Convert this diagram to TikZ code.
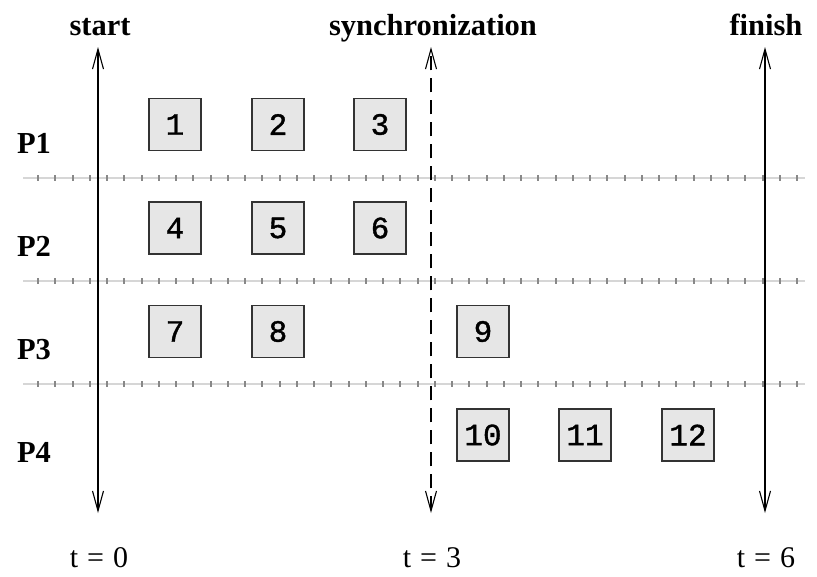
\documentclass[tikz,border=0pt]{standalone}
\usepackage{fontspec}
\setmainfont{Liberation Serif}
\newfontfamily\boxfont[FakeBold=1.2]{Liberation Mono}
\usetikzlibrary{arrows.meta}
\definecolor{boxfill}{HTML}{E6E6E6}
\definecolor{boxline}{HTML}{333333}
\definecolor{sepline}{HTML}{D6D6D6}
\definecolor{septick}{HTML}{888888}
\tikzset{
  taskbox/.style={draw=boxline, fill=boxfill, line width=1.3pt, minimum width=52pt, minimum height=52pt, inner sep=0pt, font=\boxfont\fontsize{31}{31}\selectfont},
  lbl/.style={font=\bfseries\fontsize{30.5}{34}\selectfont, inner sep=0pt, anchor=base},
  tlbl/.style={font=\fontsize{30}{34}\selectfont, inner sep=0pt, anchor=base},
  timeline/.style={line width=1.3pt, {Straight Barb[length=20pt,width=11pt,line width=1.1pt]}-{Straight Barb[length=20pt,width=11pt,line width=1.1pt]}},
  syncline/.style={timeline, dash pattern=on 14pt off 8pt},
  sepbase/.style={draw=sepline, line width=1.5pt},
  septicks/.style={draw=septick, line width=2pt}
}
\begin{document}
\begin{tikzpicture}[x=1pt,y=-1pt]
\useasboundingbox (0,0) rectangle (817,576);
% separators
\foreach \yy in {178,281,384}{
  \draw[sepbase] (23,\yy) -- (805,\yy);
  \foreach \k in {0,...,44}{
    \draw[septicks] ({38+17.25*\k},{\yy-3}) -- ({38+17.25*\k},{\yy+3});
  }
}
% timelines
\coordinate (s0t) at (98,47);  \coordinate (s0b) at (98,513);
\coordinate (s3t) at (431,47); \coordinate (s3b) at (431,513);
\coordinate (s6t) at (765,47); \coordinate (s6b) at (765,513);
\draw[timeline] (s0b) -- (s0t);
\draw[syncline] (s3b) -- (s3t);
\draw[timeline] (s6b) -- (s6t);
% labels
\node[lbl] (start) at (100,35) {start};
\node[lbl] (sync) at (433,35) {synchronization};
\node[lbl] (finish) at (766,35) {finish};
\node[tlbl] (t0) at (99,567) {t\hspace{0.3em}=\hspace{0.3em}0};
\node[tlbl] (t3) at (432,567) {t\hspace{0.3em}=\hspace{0.3em}3};
\node[tlbl] (t6) at (766,567) {t\hspace{0.3em}=\hspace{0.3em}6};
\node[lbl] (p1) at (34,153) {P1};
\node[lbl] (p2) at (34,256) {P2};
\node[lbl] (p3) at (34,359) {P3};
\node[lbl] (p4) at (34,462) {P4};
% tasks
\node[taskbox] (b1) at (175,124.5) {1};
\node[taskbox] (b2) at (278,124.5) {2};
\node[taskbox] (b3) at (380,124.5) {3};
\node[taskbox] (b4) at (175,228) {4};
\node[taskbox] (b5) at (278,228) {5};
\node[taskbox] (b6) at (380,228) {6};
\node[taskbox] (b7) at (175,331.5) {7};
\node[taskbox] (b8) at (278,331.5) {8};
\node[taskbox] (b9) at (483,331.5) {9};
\node[taskbox] (b10) at (483,435) {10};
\node[taskbox] (b11) at (585,435) {11};
\node[taskbox] (b12) at (688,435) {12};
\end{tikzpicture}
\end{document}
